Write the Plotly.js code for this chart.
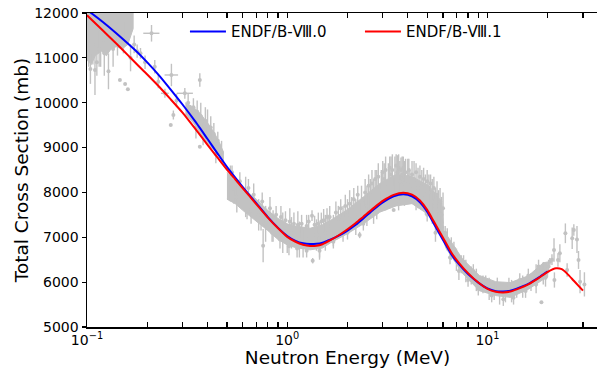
<!DOCTYPE html>
<html>
<head>
<meta charset="utf-8">
<script src="https://cdn.plot.ly/plotly-3.0.1.min.js"></script>
<style>
  html, body { margin: 0; padding: 0; overflow: hidden; background: #ffffff; }
  #chart { width: 608px; height: 368px; }
</style>
</head>
<body>
<div id="chart"></div>
<script>
// Evaluated total cross sections (mb) vs neutron energy (MeV)
const energyV80 = [0.10, 0.12, 0.14, 0.16, 0.18, 0.20, 0.23, 0.26, 0.30, 0.35, 0.40, 0.45, 0.50, 0.55, 0.60, 0.65, 0.70, 0.80, 0.90, 1.00,
  1.10, 1.20, 1.30, 1.40, 1.50, 1.65, 1.80, 2.00, 2.20, 2.40, 2.70, 3.00, 3.40, 3.80, 4.20, 4.60, 5.00, 5.40, 6.00, 6.60,
  7.20, 8.00, 9.00, 10.0, 11.0, 12.0, 13.0, 14.0, 16.0, 18.0, 20.0];
const xsV80 = [12070, 11800, 11550, 11320, 11110, 10900, 10600, 10310, 9960, 9560, 9190, 8860, 8570, 8330, 8120, 7930, 7760, 7450, 7210, 7030,
  6920, 6865, 6848, 6855, 6880, 6950, 7030, 7150, 7280, 7420, 7620, 7780, 7915, 7960, 7915, 7780, 7570, 7300, 6940, 6620,
  6400, 6180, 5990, 5860, 5800, 5790, 5810, 5855, 5960, 6100, 6240];

const energyV81 = [0.10, 0.12, 0.14, 0.16, 0.18, 0.20, 0.23, 0.26, 0.30, 0.35, 0.40, 0.45, 0.50, 0.55, 0.60, 0.65, 0.70, 0.80, 0.90, 1.00,
  1.10, 1.20, 1.30, 1.40, 1.50, 1.65, 1.80, 2.00, 2.20, 2.40, 2.70, 3.00, 3.40, 3.80, 4.20, 4.60, 5.00, 5.40, 6.00, 6.60,
  7.20, 8.00, 9.00, 10.0, 11.0, 12.0, 13.0, 14.0, 16.0, 18.0, 20.0, 22.0, 23.5, 25.0, 27.0, 30.0];
const xsV81 = [11950, 11610, 11320, 11060, 10830, 10630, 10350, 10090, 9780, 9400, 9060, 8770, 8510, 8290, 8090, 7910, 7740, 7440, 7200, 7010,
  6900, 6835, 6808, 6812, 6845, 6940, 7040, 7180, 7320, 7460, 7650, 7810, 7945, 7995, 7950, 7820, 7610, 7350, 6990, 6660,
  6430, 6200, 5990, 5850, 5785, 5770, 5790, 5840, 5950, 6090, 6230, 6310, 6290, 6190, 6030, 5810];

// Core spread of the dense measurements (null separates groups)
const bandE    = [0.100, 0.105, 0.110, 0.118, 0.125, 0.132, 0.140, 0.150, 0.160, 0.170, null,
  0.31, 0.34, 0.37, 0.40, 0.43, 0.46, 0.48, null,
  0.50, 0.55, 0.60, 0.70, 0.80, 0.90, 1.00, 1.10, 1.30, 1.50, 1.65, 2.00, 2.40, 2.90, 3.50, 4.20, 5.10, 5.90, 6.05,
  6.20, 7.50, 9.10, 11.0, 13.0, 16.0, 19.0, 20.0];
const bandLow  = [10950, 10850, 11050, 11150, 11050, 11200, 11250, 11200, 11300, 11650, null,
  9750, 9550, 9300, 9100, 8950, 8800, 8650, null,
  7850, 7750, 7600, 7350, 7150, 6950, 6830, 6770, 6720, 6760, 6880, 7080, 7300, 7560, 7700, 7750, 7500, 7000, 6900,
  6760, 6200, 5810, 5700, 5660, 5840, 6060, 6110];
const bandHigh = [12200, 12200, 12200, 12200, 12200, 12200, 12200, 12200, 12200, 12200, null,
  10000, 9900, 9750, 9550, 9350, 9100, 8900, null,
  8450, 8250, 8100, 7850, 7600, 7420, 7300, 7250, 7200, 7280, 7380, 7620, 7900, 8200, 8400, 8350, 8150, 7800, 7150,
  7080, 6520, 6150, 6010, 5990, 6140, 6430, 6450];

// Individual measurements with vertical uncertainties
const expE = [0.102, 0.104, 0.1096, 0.112, 0.117, 0.122, 0.128, 0.135, 0.146, 0.155, 0.160, 0.165, 0.172, 0.178, 0.185, 0.195, 0.218, 0.227,
  0.262, 0.27, 0.28, 0.34, 0.35, 0.366, 0.366, 0.37, 0.38, 0.40, 0.43, 0.44, 0.47,
  0.52, 0.56, 0.62, 0.66, 0.72, 0.758, 0.78, 0.85, 0.95, 1.00, 1.05, 1.15, 1.20, 1.33, 1.34, 1.40, 1.45, 1.55, 1.60, 1.70, 1.80, 1.90,
  2.00, 2.10, 2.20, 2.30, 2.35, 2.50, 2.60, 2.70, 2.80, 2.95, 3.05, 3.20, 3.30, 3.40, 3.45, 3.55, 3.65, 3.75, 3.85, 4.00, 4.10, 4.30,
  4.50, 4.70, 4.90, 5.10, 5.30, 5.50, 5.70, 5.90, 6.30, 6.60, 7.00, 7.40, 7.80, 8.30, 8.80, 9.50, 10.2, 10.8, 11.5, 12.3, 13.2, 14.0,
  15.0, 16.5, 17.5, 18.6, 19.0, 20.2, 20.5, 21.0, 21.5, 21.6, 22.5, 23.0, 24.5, 25.0, 26.5, 27.0, 28.0, 28.5, 29.0, 30.5,
  // upper edge of the dense data
  0.53, 0.58, 0.64, 0.68, 0.75, 0.82, 0.88, 0.93, 0.98, 1.03, 1.08, 1.13, 1.18, 1.25, 1.28, 1.37, 1.43, 1.48, 1.52, 1.58, 1.63,
  1.75, 1.85, 1.95, 2.05, 2.15, 2.25, 2.45, 2.55, 2.65, 2.75, 2.85, 3.00, 3.10, 3.25, 3.35, 3.50, 3.60, 3.70, 3.80, 3.90, 4.05,
  4.20, 4.40, 4.60, 4.80, 5.00, 5.20, 5.40, 5.60, 5.80, 6.00, 6.15, 6.8, 7.6, 8.5, 9.8, 11.2, 12.8, 14.5, 16.0, 18.0,
  // lower edge of the dense data
  0.54, 0.63, 0.74, 0.84, 0.92, 1.02, 1.12, 1.25, 1.45, 1.70, 2.00, 2.40, 2.80, 3.10, 3.60, 4.40, 5.00, 5.50, 6.50, 7.20, 8.00,
  9.00, 10.5, 12.0, 13.5, 15.5, 17.5, 19.5,
  // upper-left groups
  0.32, 0.355, 0.39, 0.415, 0.45, 0.107, 0.115, 0.125, 0.142, 0.152];
const expXS = [11300, 10750, 10730, 10900, 11400, 11100, 10700, 11200, 10506, 10417, 10300, 11000, 11300, 11150, 11100, 10900, 10800, 10470,
  9503, 9726, 10050, 9900, 9450, 10506, 9020, 9700, 9300, 9500, 9300, 8850, 8900,
  8200, 7900, 7900, 7600, 7500, 6813, 7300, 7250, 7100, 6900, 7100, 6950, 6850, 7481, 6478, 7050, 6800, 7100, 7250, 7150, 7400, 7300,
  7500, 7600, 7450, 7051, 7800, 7700, 7950, 7800, 8100, 8050, 8300, 8150, 8400, 7608, 8350, 8450, 8250, 8400, 8200, 8350, 8150, 8300,
  8100, 8200, 7950, 8000, 7800, 7700, 7600, 7500, 6950, 6750, 6500, 6400, 6250, 6150, 6050, 5950, 5850, 5800, 5750, 5750, 5800, 5850,
  5900, 6000, 6150, 5551, 6200, 6350, 6456, 6500, 6717, 6048, 6494, 6643, 7089, 6271, 6978, 7163, 6950, 6494, 6010, 5950,
  8450, 8250, 8100, 7950, 7800, 7650, 7500, 7450, 7380, 7350, 7300, 7280, 7300, 7250, 7350, 7280, 7300, 7350, 7380, 7450, 7450,
  7550, 7650, 7700, 7750, 7850, 7950, 8000, 8150, 8200, 8300, 8350, 8450, 8500, 8550, 8500, 8600, 8550, 8500, 8550, 8450, 8500,
  8400, 8450, 8350, 8300, 8250, 8200, 8100, 7950, 7800, 7650, 7100, 6750, 6450, 6250, 6000, 5950, 5950, 6050, 6150, 6350,
  7900, 7600, 7350, 7100, 6950, 6800, 6750, 6700, 6700, 6900, 7100, 7300, 7550, 7700, 7750, 7750, 7500, 7100, 6550, 6250, 6050,
  5850, 5700, 5620, 5650, 5800, 5950, 6100,
  10000, 9800, 9600, 9450, 9150, 11300, 11200, 11400, 11350, 11450];
const expErr = [500, 330, 560, 300, 600, 500, 400, 400, 0, 0, 0, 300, 200, 150, 120, 150, 150, 150,
  0, 100, 150, 200, 250, 150, 0, 300, 250, 350, 250, 200, 250,
  400, 350, 450, 300, 350, 370, 400, 350, 450, 250, 350, 400, 300, 120, 60, 350, 250, 400, 250, 350, 300, 400,
  350, 300, 400, 70, 350, 450, 350, 500, 400, 450, 350, 500, 400, 0, 450, 380, 450, 400, 500, 400, 350, 400,
  450, 300, 450, 400, 500, 400, 450, 400, 250, 250, 250, 200, 250, 200, 250, 200, 250, 200, 250, 200, 250, 200,
  250, 200, 250, 0, 250, 150, 80, 120, 260, 170, 150, 200, 220, 150, 240, 130, 300, 200, 260, 270,
  150, 200, 200, 250, 200, 250, 200, 250, 200, 300, 250, 300, 200, 250, 150, 200, 250, 200, 250, 200, 250,
  250, 200, 250, 300, 250, 200, 300, 250, 300, 200, 300, 250, 300, 250, 350, 250, 300, 280, 250, 300, 250,
  300, 200, 250, 250, 250, 200, 250, 300, 300, 350, 150, 150, 150, 150, 150, 150, 150, 150, 150, 150,
  150, 200, 200, 200, 200, 200, 200, 150, 200, 150, 150, 150, 150, 100, 150, 150, 150, 200, 150, 200, 150,
  150, 150, 150, 150, 150, 200, 200,
  200, 250, 300, 250, 200, 450, 400, 350, 300, 350];

// Measurements with both energy and cross-section uncertainties
const crossE = [0.210, 0.245, 0.264, 0.308];
const crossXS = [11548, 10210, 10618, 10210];
const crossErrY = [185, 100, 250, 120];
const crossErrEPlus = [0.020, 0.011, 0.021, 0.030];
const crossErrEMinus = [0.019, 0.011, 0.020, 0.027];

const gray = '#c2c2c2';
const font = 'DejaVu Sans, sans-serif';

// Closed outline for each group of the measurement spread
const polyX = [], polyY = [];
let seg = [];
function closeSegment() {
  if (!seg.length) return;
  if (polyX.length) { polyX.push(null); polyY.push(null); }
  seg.forEach(i => { polyX.push(bandE[i]); polyY.push(bandHigh[i]); });
  seg.slice().reverse().forEach(i => { polyX.push(bandE[i]); polyY.push(bandLow[i]); });
  seg = [];
}
bandE.forEach((e, i) => { if (e === null) closeSegment(); else seg.push(i); });
closeSegment();

const traces = [
  {
    x: polyX, y: polyY, type: 'scatter', mode: 'lines', fill: 'toself',
    fillcolor: gray, line: { color: gray, width: 1 }, hoverinfo: 'skip', showlegend: false
  },
  {
    x: expE, y: expXS, type: 'scatter', mode: 'markers',
    marker: { color: gray, size: 4 },
    error_y: { type: 'data', array: expErr, color: gray, thickness: 1.4, width: 0 },
    showlegend: false
  },
  {
    x: crossE, y: crossXS, type: 'scatter', mode: 'markers',
    marker: { color: gray, size: 4 },
    error_y: { type: 'data', array: crossErrY, color: gray, thickness: 1.4, width: 0 },
    error_x: { type: 'data', symmetric: false, array: crossErrEPlus, arrayminus: crossErrEMinus, color: gray, thickness: 1.4, width: 0 },
    showlegend: false
  },
  {
    x: energyV80, y: xsV80, type: 'scatter', mode: 'lines', name: 'ENDF/B-Ⅷ.0',
    line: { color: '#0000ff', width: 2, shape: 'spline', smoothing: 0.6 }
  },
  {
    x: energyV81, y: xsV81, type: 'scatter', mode: 'lines', name: 'ENDF/B-Ⅷ.1',
    line: { color: '#ff0000', width: 2, shape: 'spline', smoothing: 0.6 }
  }
];

const xTickVals = [0.1, 0.2, 0.3, 0.4, 0.5, 0.6, 0.7, 0.8, 0.9, 1, 2, 3, 4, 5, 6, 7, 8, 9, 10, 20, 30];
const xTickText = xTickVals.map(v => v === 0.1 ? '10<sup>−1</sup>' : v === 1 ? '10<sup>0</sup>' : v === 10 ? '10<sup>1</sup>' : '');
const yTickVals = [5000, 6000, 7000, 8000, 9000, 10000, 11000, 12000];
const yTickText = ['5000', '6000', '7000', '8000', '9000', '10000', '11000', '12000'];

const layout = {
  width: 608, height: 368,
  margin: { l: 87, r: 0, t: 13, b: 41 },
  paper_bgcolor: '#ffffff', plot_bgcolor: '#ffffff',
  font: { family: font, color: '#000000' },
  showlegend: true,
  legend: {
    orientation: 'h', x: 0.188, xanchor: 'left', y: 0.94, yanchor: 'middle',
    itemwidth: 36, entrywidth: 124, entrywidthmode: 'pixels',
    bgcolor: 'rgba(0,0,0,0)', borderwidth: 0,
    font: { family: font, size: 15, color: '#000000' }
  },
  xaxis: {
    type: 'log', range: [-1, Math.log10(40)],
    tickmode: 'array', tickvals: xTickVals, ticktext: xTickText,
    ticks: 'inside', ticklen: 5, tickwidth: 1.2, tickcolor: '#000000',
    showline: true, linecolor: '#000000', linewidth: 1.5, mirror: 'ticks',
    showgrid: false, zeroline: false,
    tickfont: { family: font, size: 14, color: '#000000' },
    title: { text: 'Neutron Energy (MeV)', font: { family: font, size: 18.5, color: '#000000' }, standoff: 6 }
  },
  yaxis: {
    range: [5000, 12000],
    tickmode: 'array', tickvals: yTickVals, ticktext: yTickText,
    ticks: 'outside', ticklen: 4, tickwidth: 1.2, tickcolor: '#000000',
    showline: true, linecolor: '#000000', linewidth: 1.5,
    showgrid: false, zeroline: false,
    tickfont: { family: font, size: 14, color: '#000000' },
    title: { text: 'Total Cross Section (mb)', font: { family: font, size: 18.5, color: '#000000' }, standoff: 0 }
  }
};

Plotly.newPlot('chart', traces, layout, { displayModeBar: false, staticPlot: true });
</script>
</body>
</html>
